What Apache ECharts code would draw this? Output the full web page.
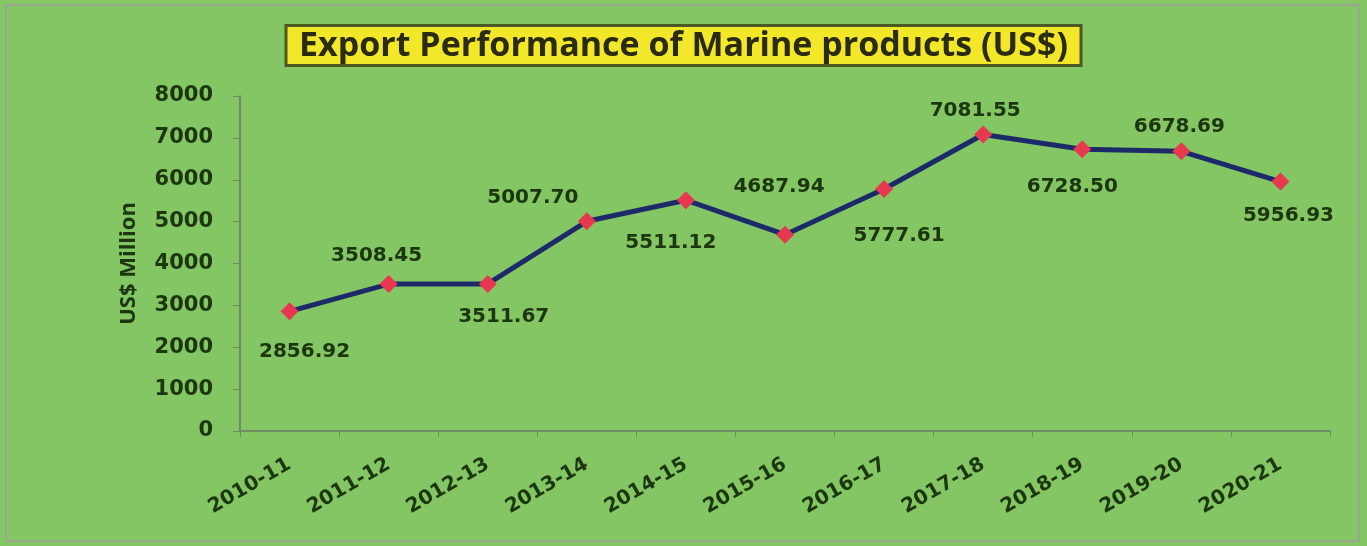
<!DOCTYPE html>
<html>
<head>
<meta charset="utf-8">
<script src="https://cdn.jsdelivr.net/npm/echarts@6/dist/echarts.min.js"></script>
<style>
  html, body { margin: 0; padding: 0; background: #84c564; }
  #chart { width: 1367px; height: 546px; }
</style>
</head>
<body>
<div id="chart"></div>
<script>
// Fiscal years shown on the category axis
const years = ['2010-11', '2011-12', '2012-13', '2013-14', '2014-15', '2015-16',
               '2016-17', '2017-18', '2018-19', '2019-20', '2020-21'];

// Export value of marine products, US$ million
const exportValues = [2856.92, 3508.45, 3511.67, 5007.70, 5511.12, 4687.94,
                      5777.61, 7081.55, 6728.50, 6678.69, 5956.93];

// Value axis range and step
const yMin = 0;
const yMax = 8000;
const yStep = 1000;

// Where each value label sits relative to its point (px)
const labelOffsets = [[15, 40], [-12, -28], [16, 33], [-54, -24], [-15, 43], [-6, -48],
                      [15, 47], [-8, -24], [-10, 38], [-2, -25], [8, 34]];

const textDark = '#1c3610';
const axisGray = '#6f8c62';
const numFont = '"DejaVu Sans", sans-serif';

const chart = echarts.init(document.getElementById('chart'), null, { renderer: 'canvas' });

const seriesData = exportValues.map((v, i) => ({
  value: v,
  label: { offset: labelOffsets[i] }
}));

chart.setOption({
  backgroundColor: '#84c564',
  animation: false,
  title: {
    text: 'Export Performance of Marine products (US$)',
    left: 'center',
    top: 25,
    backgroundColor: '#f2e829',
    borderColor: '#4b5a22',
    borderWidth: 3,
    padding: [4, 13, 3, 13],
    textStyle: {
      fontFamily: '"Open Sans", sans-serif',
      fontWeight: 'bold',
      fontSize: 34,
      color: '#2b2a12'
    }
  },
  graphic: [{
    type: 'rect',
    shape: { x: 6, y: 5, width: 1353, height: 536 },
    style: { fill: 'none', stroke: '#9aa690', lineWidth: 2 },
    z: -1
  }],
  grid: { left: 240, right: 37, top: 96, bottom: 115 },
  xAxis: {
    type: 'category',
    data: years,
    boundaryGap: true,
    axisLine: { lineStyle: { color: axisGray, width: 2 } },
    axisTick: { show: true, alignWithLabel: false, length: 6, lineStyle: { color: axisGray } },
    axisLabel: {
      rotate: 30,
      margin: 32,
      color: textDark,
      fontFamily: numFont,
      fontWeight: 'bold',
      fontSize: 20
    },
    splitLine: { show: false }
  },
  yAxis: {
    type: 'value',
    min: yMin,
    max: yMax,
    interval: yStep,
    name: 'US$ Million',
    nameLocation: 'middle',
    nameRotate: 90,
    nameGap: 100,
    nameTextStyle: {
      color: textDark,
      fontFamily: '"Open Sans", sans-serif',
      fontWeight: 'bold',
      fontSize: 22
    },
    axisLine: { show: true, lineStyle: { color: axisGray, width: 2 } },
    axisTick: { show: true, length: 7, lineStyle: { color: axisGray } },
    axisLabel: {
      margin: 27,
      color: textDark,
      fontFamily: numFont,
      fontWeight: 'bold',
      fontSize: 21,
      formatter: v => String(v)
    },
    splitLine: { show: false }
  },
  series: [{
    type: 'line',
    data: seriesData,
    symbol: 'diamond',
    symbolSize: 18,
    lineStyle: { color: '#1d2a6a', width: 5 },
    itemStyle: { color: '#e8384f', borderWidth: 0 },
    label: {
      show: true,
      position: 'inside',
      color: textDark,
      fontFamily: numFont,
      fontWeight: 'bold',
      fontSize: 20,
      formatter: p => p.value.toFixed(2)
    },
    z: 3
  }]
});
</script>
</body>
</html>
